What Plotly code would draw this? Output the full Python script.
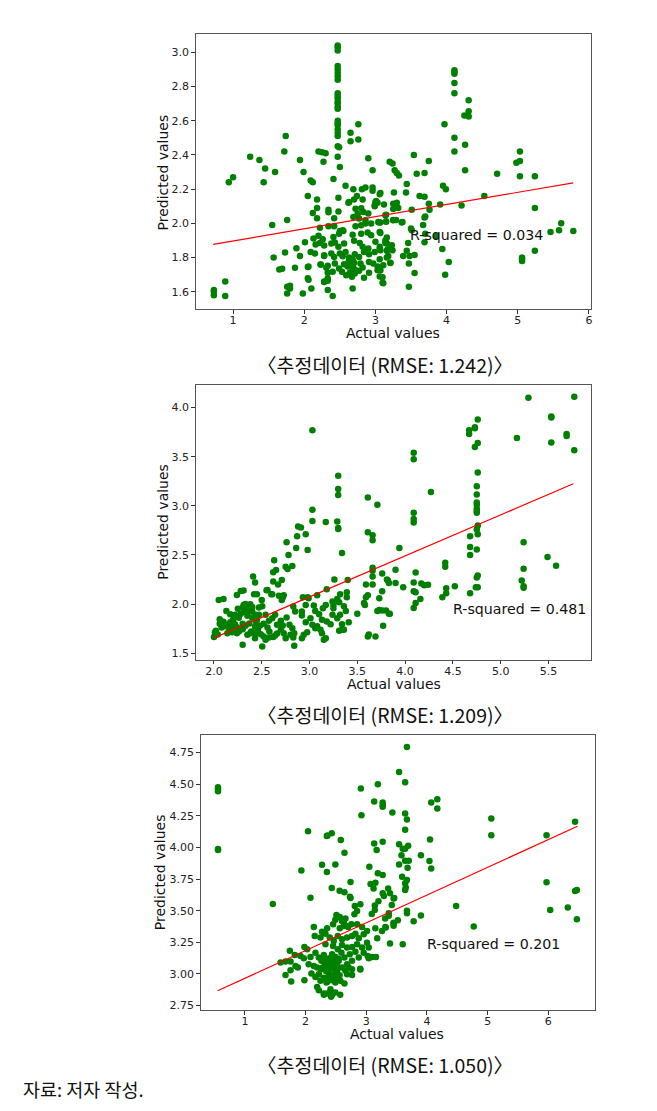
import plotly.graph_objects as go

# ---- data: (actual, predicted) ----
pts1 = [
    (0.73, 1.61), (0.73, 1.58), (0.73, 1.60), (0.89, 1.66), (0.89, 1.575), (0.94, 2.24), (1.0, 2.27),
    (1.24, 2.39), (1.37, 2.37), (1.45, 2.32), (1.43, 2.24), (1.59, 2.30), (1.55, 1.99), (1.57, 1.80),
    (1.65, 1.73), (1.69, 1.735), (1.73, 1.83), (1.74, 2.51), (1.72, 2.42), (1.76, 2.02), (1.76, 1.63),
    (1.80, 1.635), (1.80, 1.62), (1.76, 1.59), (1.87, 1.74), (1.89, 1.855), (1.94, 2.37), (1.94, 1.81),
    (1.99, 2.30), (1.98, 1.59), (2.01, 1.89), (2.05, 2.16), (2.05, 1.745), (2.05, 1.68), (2.06, 1.67),
    (2.10, 1.62), (2.09, 2.25), (2.12, 2.24), (2.12, 2.06), (2.18, 2.14), (2.18, 2.09), (2.18, 2.03),
    (2.20, 2.42), (2.25, 2.415), (2.30, 2.41), (2.27, 2.36), (2.23, 1.76), (2.28, 1.66), (2.28, 1.81),
    (2.31, 1.74), (2.33, 1.68), (2.33, 1.61), (2.40, 1.575), (2.34, 2.08), (2.34, 2.065), (2.41, 2.26),
    (2.42, 2.03),
    (2.47, 3.04), (2.47, 3.03), (2.47, 3.01), (2.47, 2.92), (2.47, 2.90), (2.47, 2.88), (2.47, 2.86),
    (2.47, 2.84), (2.47, 2.76), (2.47, 2.745), (2.47, 2.73), (2.47, 2.71), (2.47, 2.70), (2.47, 2.68),
    (2.47, 2.67), (2.47, 2.60), (2.47, 2.585), (2.47, 2.575), (2.47, 2.55), (2.47, 2.53), (2.47, 2.51),
    (2.47, 2.45), (2.47, 2.39),
    (2.49, 2.445), (2.50, 2.33), (2.48, 2.15), (2.48, 2.07), (2.65, 2.53), (2.65, 2.48), (2.76, 2.58),
    (2.76, 2.49), (2.58, 2.22), (2.62, 2.12), (2.69, 2.20), (2.81, 2.20), (2.86, 2.21), (2.90, 2.38),
    (2.96, 2.31), (2.96, 2.21), (2.96, 2.19), (3.06, 2.17), (3.00, 2.125), (3.03, 2.12), (2.99, 2.10),
    (3.20, 2.36), (3.24, 2.35), (3.27, 2.31), (3.30, 2.295), (3.33, 2.28), (3.54, 2.40), (3.58, 2.29),
    (3.69, 2.295), (3.75, 2.365), (3.44, 2.23), (3.43, 2.18), (3.26, 2.18), (3.30, 2.12), (3.25, 2.115),
    (3.32, 2.09), (3.29, 2.02), (3.25, 2.02), (3.37, 2.005), (3.15, 2.05), (3.15, 2.01), (3.05, 2.005),
    (3.62, 2.16), (3.69, 2.155), (3.75, 2.115), (3.76, 2.08), (3.51, 2.08), (3.70, 2.04), (3.69, 2.035),
    (3.91, 2.11), (3.95, 2.22), (3.99, 2.20), (4.21, 2.105), (4.53, 2.16), (3.97, 2.58), (4.11, 2.895),
    (4.11, 2.885), (4.11, 2.875), (4.11, 2.82), (4.11, 2.76), (4.11, 2.50), (4.11, 2.42), (4.31, 2.72),
    (4.31, 2.655), (4.25, 2.63), (4.31, 2.625), (4.26, 2.46), (4.26, 2.31), (4.71, 2.29), (4.98, 2.355),
    (5.03, 2.365), (5.03, 2.42), (5.03, 2.275), (5.24, 2.275), (5.24, 2.09), (5.46, 1.95), (5.58, 1.96),
    (5.61, 2.0), (5.78, 1.955), (5.24, 1.84), (5.06, 1.80), (5.06, 1.79), (5.06, 1.78), (3.67, 1.99),
    (3.70, 1.94), (3.69, 1.89), (3.85, 1.925), (3.94, 1.85), (4.03, 1.775), (3.98, 1.70), (3.44, 1.84),
    (3.47, 1.765), (3.48, 1.81), (3.55, 1.815), (3.55, 1.71), (3.47, 1.63), (3.39, 1.81), (3.51, 1.96),
    (3.46, 1.885), (3.16, 1.84), (3.16, 1.80), (3.21, 1.855), (3.18, 1.81), (3.21, 1.77), (3.14, 1.90),
    (3.14, 1.885), (3.10, 1.685), (3.11, 1.65), (3.06, 1.69), (3.06, 1.79), (3.05, 1.73), (3.06, 1.85),
    (3.06, 1.95), (3.07, 2.005), (3.50, 1.97), (3.38, 2.008),
    (2.22, 1.975), (2.34, 1.983), (2.50, 1.956), (2.55, 1.955), (2.72, 1.983), (2.80, 1.989), (2.86, 1.999),
    (3.04, 2.008), (3.15, 2.012), (3.25, 2.018), (2.42, 1.983), (2.54, 1.96),
    (2.13, 1.911), (2.20, 1.927), (2.26, 1.907), (2.41, 1.921), (2.49, 1.94), (2.68, 1.934), (2.80, 1.94),
    (2.89, 1.946), (2.94, 1.931), (3.07, 1.944), (3.16, 1.917),
    (2.16, 1.876), (2.22, 1.886), (2.28, 1.87), (2.38, 1.882), (2.43, 1.888), (2.48, 1.863), (2.56, 1.882),
    (2.70, 1.898), (2.78, 1.886), (2.82, 1.863), (2.90, 1.853), (3.00, 1.892), (3.06, 1.863), (3.16, 1.882),
    (3.23, 1.872),
    (2.15, 1.824), (2.28, 1.814), (2.38, 1.824), (2.42, 1.804), (2.50, 1.824), (2.54, 1.808), (2.58, 1.833),
    (2.63, 1.801), (2.68, 1.789), (2.71, 1.82), (2.77, 1.804), (2.84, 1.833), (2.88, 1.843), (2.91, 1.82),
    (2.99, 1.833), (3.07, 1.843), (3.17, 1.847), (3.24, 1.843), (2.09, 1.833),
    (2.23, 1.76), (2.33, 1.752), (2.43, 1.765), (2.49, 1.736), (2.56, 1.761), (2.61, 1.748), (2.64, 1.769),
    (2.68, 1.75), (2.72, 1.726), (2.79, 1.765), (2.82, 1.742), (2.91, 1.775), (2.97, 1.765), (3.03, 1.748),
    (3.11, 1.756), (3.21, 1.769), (2.06, 1.748),
    (2.33, 1.711), (2.40, 1.717), (2.53, 1.717), (2.59, 1.697), (2.64, 1.711), (2.67, 1.688), (2.71, 1.707),
    (2.77, 1.723), (2.84, 1.682), (2.91, 1.711), (3.03, 1.726), (3.07, 1.726), (2.28, 1.658), (2.33, 1.664),
    (3.10, 1.653), (2.68, 1.62),
    (2.62, 1.77), (2.64, 1.76), (2.66, 1.78), (2.68, 1.76), (2.65, 1.75), (2.70, 1.77), (2.63, 1.79),
    (2.67, 1.745), (2.60, 1.76), (2.69, 1.74),
    (2.63, 2.125), (2.70, 2.139), (2.74, 2.16), (2.82, 2.14), (2.72, 2.086), (2.80, 2.088), (2.83, 2.067),
    (2.75, 2.055), (2.90, 2.057), (2.99, 2.106), (3.01, 2.131), (3.07, 2.178), (3.12, 2.111), (3.14, 2.047),
    (3.25, 2.084), (2.69, 2.037), (2.77, 2.028), (2.86, 2.018), (2.94, 1.999),
]

pts2 = [
    (3.03, 3.77), (3.30, 3.305), (3.30, 3.17), (3.30, 3.11), (3.03, 2.96), (3.03, 2.845), (3.17, 2.835),
    (3.29, 2.84), (3.30, 2.775), (3.30, 2.765), (3.34, 2.52), (3.61, 3.085), (3.71, 3.01), (3.61, 2.73),
    (3.66, 2.70), (3.66, 2.65), (3.94, 2.57), (4.09, 3.54), (4.09, 3.475), (4.09, 2.93), (4.09, 2.865),
    (4.09, 2.83), (4.27, 3.14), (4.67, 3.77), (4.67, 3.73), (4.73, 3.80), (4.73, 3.79), (4.76, 3.88),
    (4.73, 3.60), (4.76, 3.64), (4.76, 3.34), (4.75, 3.20), (4.75, 3.115), (4.75, 3.035), (4.75, 3.01),
    (4.75, 2.97), (4.75, 2.95), (4.75, 2.93), (4.76, 2.80), (4.75, 2.76), (4.76, 2.71), (4.68, 2.69),
    (4.68, 2.58), (4.68, 2.50), (4.75, 2.555), (4.76, 2.29), (4.75, 2.27), (4.74, 2.17), (4.76, 2.17),
    (4.68, 2.11), (4.39, 2.07), (4.42, 2.42), (4.42, 2.38), (4.43, 2.16), (4.43, 2.11), (4.52, 2.18),
    (5.17, 3.69), (5.29, 4.10), (5.53, 3.91), (5.53, 3.90), (5.53, 3.645), (5.69, 3.73), (5.69, 3.71),
    (5.77, 4.11), (5.77, 3.565), (5.24, 2.63), (5.24, 2.36), (5.22, 2.24), (5.24, 2.18), (5.24, 2.165),
    (5.49, 2.48), (5.58, 2.39), (4.09, 2.22), (4.09, 2.13), (4.11, 2.12), (4.11, 2.32), (4.17, 2.21),
    (4.20, 2.19), (4.24, 2.195), (4.11, 2.01), (4.09, 1.96), (4.16, 2.05), (3.98, 2.17), (3.90, 2.215),
    (3.90, 2.35), (3.81, 2.25), (3.82, 2.24), (3.83, 2.215), (3.76, 2.31), (3.76, 2.13), (3.73, 2.06),
    (3.66, 2.37), (3.66, 2.34), (3.66, 2.28), (3.66, 2.20), (3.59, 2.20), (3.61, 2.09), (3.59, 2.07),
    (3.57, 2.01), (3.58, 1.99), (3.71, 1.93), (3.73, 1.94), (3.76, 1.935), (3.80, 1.935), (3.83, 1.90),
    (3.77, 1.78), (3.69, 1.67), (3.62, 1.69), (3.61, 1.67), (3.50, 1.90),
    (2.76, 2.63), (2.87, 2.69), (2.96, 2.71), (2.88, 2.79), (2.91, 2.78), (2.86, 2.57), (2.98, 2.55),
    (2.78, 2.50), (2.63, 2.445), (2.65, 2.346), (2.62, 2.323), (2.75, 2.38), (2.77, 2.357), (2.82, 2.387),
    (2.67, 2.20), (2.62, 2.23), (2.71, 2.245), (2.41, 2.28), (2.43, 2.22), (2.55, 2.14), (2.60, 2.10),
    (2.73, 2.09), (2.71, 2.04), (2.93, 2.07), (2.98, 2.07), (3.08, 2.09), (3.18, 2.15), (3.26, 2.25),
    (3.40, 2.245), (3.39, 2.12), (3.39, 2.07), (3.32, 2.10), (3.29, 2.05),
    (2.05, 2.04), (2.10, 2.05), (2.01, 1.713), (2.02, 1.727), (2.00, 1.663), (2.06, 1.846), (2.09, 1.795),
    (2.115, 1.774), (2.14, 1.788), (2.17, 1.815), (2.185, 1.761), (2.22, 1.795), (2.24, 1.764), (2.26, 1.72),
    (2.30, 1.744), (2.33, 1.778), (2.37, 1.801), (2.39, 1.72), (2.43, 1.771), (2.45, 1.839), (2.47, 1.89),
    (2.13, 1.93), (2.17, 1.896), (2.22, 1.89), (2.25, 1.951), (2.30, 1.964), (2.31, 1.991), (2.33, 2.0),
    (2.355, 1.974), (2.38, 1.998), (2.40, 1.923), (2.435, 1.89), (2.47, 1.964), (2.505, 1.978), (2.54, 1.89),
    (2.575, 1.829), (2.61, 1.856), (2.64, 1.89), (2.66, 1.788), (2.70, 1.829), (2.72, 1.781), (2.76, 1.862),
    (2.79, 1.788), (2.82, 1.754), (2.84, 1.703), (2.92, 1.883), (2.96, 1.815), (3.01, 1.856), (3.03, 1.788),
    (3.08, 1.774), (3.115, 1.737), (3.13, 1.839), (3.18, 1.822), (3.22, 1.795), (3.24, 1.89), (3.25, 1.957),
    (3.29, 1.856), (3.32, 1.89), (3.34, 1.795), (3.36, 1.737), (3.41, 1.815),
    (2.24, 2.093), (2.28, 2.133), (2.31, 2.137), (2.42, 2.10), (2.45, 2.10), (2.50, 2.042), (2.56, 2.143),
    (2.61, 2.10), (2.68, 2.083), (2.72, 2.066), (2.83, 1.974), (2.85, 1.923), (2.92, 1.923), (2.96, 1.991),
    (2.99, 2.059), (3.045, 1.984), (3.06, 1.93), (3.10, 1.896), (3.14, 1.957), (3.17, 1.991), (3.24, 2.025),
    (3.25, 1.991), (3.31, 2.018), (3.36, 1.978), (3.38, 1.93),
    (2.30, 1.585), (2.505, 1.568), (2.54, 1.636), (2.575, 1.659), (2.62, 1.663), (2.64, 1.68), (2.73, 1.703),
    (2.75, 1.652), (2.80, 1.686), (2.83, 1.659), (2.84, 1.575), (2.92, 1.652), (2.94, 1.686), (2.975, 1.713),
    (3.06, 1.754), (3.13, 1.703), (3.15, 1.636), (3.17, 1.652), (3.31, 1.727), (3.34, 1.737),
    (2.19, 1.713), (2.21, 1.727), (2.14, 1.703), (2.24, 1.703), (2.35, 1.686), (2.38, 1.703), (2.43, 1.652),
    (2.435, 1.703), (2.49, 1.693), (2.52, 1.669),
    (2.34, 1.95), (2.36, 1.93), (2.32, 1.92), (2.38, 1.96), (2.35, 1.88), (2.40, 1.97), (2.28, 1.90),
    (2.26, 1.86), (2.20, 1.84), (2.18, 1.79), (2.12, 1.78), (2.08, 1.76), (2.44, 1.82), (2.48, 1.78),
    (2.52, 1.80), (2.56, 1.76), (2.58, 1.72), (2.66, 1.70), (2.70, 1.74), (2.46, 1.74), (2.30, 1.80),
    (2.40, 1.86), (2.10, 1.82), (2.06, 1.80), (2.04, 1.69), (2.16, 1.73), (3.84, 1.90),
]

pts3 = [
    (0.556, 4.476), (0.556, 4.46), (0.556, 4.445), (0.556, 3.987), (0.556, 3.98), (1.46, 3.553),
    (1.93, 3.818), (2.04, 4.129), (2.08, 3.603), (2.27, 3.863), (2.35, 4.09), (2.36, 4.095), (2.43, 4.113),
    (2.35, 3.805), (2.49, 3.866), (2.58, 4.058), (2.64, 3.958), (2.43, 3.679), (2.56, 3.658), (2.64, 3.645),
    (2.74, 3.726), (2.73, 3.61), (2.74, 3.60), (2.91, 4.466), (2.92, 4.255), (3.13, 4.363), (3.19, 4.50),
    (3.27, 4.355), (3.27, 4.334), (3.27, 4.321), (3.43, 4.276), (3.54, 4.597), (3.64, 4.516), (3.67, 4.795),
    (3.64, 4.268), (3.67, 4.221), (3.64, 4.139), (3.13, 4.032), (3.17, 3.979), (3.27, 4.045), (3.54, 4.026),
    (3.60, 3.99), (3.64, 3.99), (3.69, 4.013), (3.58, 3.939), (3.64, 3.895), (3.70, 3.895), (3.68, 3.84),
    (3.54, 3.866), (3.59, 3.768), (3.64, 3.716), (3.65, 3.684), (3.64, 3.663), (3.67, 3.742), (3.19, 3.795),
    (3.27, 3.782), (3.05, 3.847), (3.07, 3.71), (3.15, 3.721), (3.12, 3.676), (3.20, 3.574), (3.27, 3.637),
    (3.29, 3.616), (3.36, 3.676), (3.39, 3.637), (3.45, 3.597), (3.42, 3.545), (3.37, 3.48), (3.37, 3.46),
    (3.14, 3.54), (3.14, 3.505), (3.09, 3.474), (3.31, 3.439), (3.32, 3.366), (3.45, 3.405), (3.45, 3.381),
    (3.52, 3.424), (3.39, 3.24), (3.60, 3.234), (3.67, 3.50), (3.67, 3.479), (3.78, 3.416), (3.90, 3.461),
    (3.90, 3.939), (4.05, 4.063), (4.07, 4.355), (4.17, 4.382), (4.17, 4.308), (4.04, 3.892), (4.07, 3.834),
    (4.48, 3.537), (4.77, 3.374), (5.06, 4.229), (5.06, 4.097), (5.97, 4.097), (5.97, 3.724), (6.03, 3.505),
    (6.32, 3.526), (6.44, 4.203), (6.44, 3.655), (6.47, 3.663), (6.47, 3.432), (3.18, 3.282), (3.04, 3.124),
    (3.16, 3.134), (2.90, 3.04), (3.46, 3.60),
    (2.135, 3.371), (2.27, 3.334), (2.354, 3.361), (2.453, 3.392), (2.563, 3.361), (2.628, 3.379),
    (2.754, 3.392), (2.848, 3.392), (2.93, 3.371), (3.012, 3.339), (3.149, 3.361), (3.259, 3.339),
    (3.314, 3.371), (3.45, 3.397),
    (2.508, 3.466), (2.563, 3.45), (2.60, 3.418), (2.656, 3.439), (2.70, 3.371), (2.804, 3.471),
    (2.848, 3.497), (2.902, 3.55), (2.81, 3.537), (2.49, 3.429), (2.628, 3.413), (2.683, 3.379),
    (2.15, 3.30), (2.245, 3.287), (2.327, 3.318), (2.398, 3.287), (2.464, 3.261), (2.53, 3.30), (2.60, 3.274),
    (2.683, 3.287), (2.765, 3.30), (2.82, 3.318), (2.875, 3.282), (2.957, 3.313), (3.012, 3.247), (3.04, 3.208),
    (2.327, 3.234), (2.453, 3.221), (2.53, 3.195), (2.60, 3.229), (2.683, 3.208), (2.765, 3.213),
    (2.848, 3.234), (2.93, 3.208),
    (1.98, 3.213), (2.025, 3.195), (1.74, 3.182), (1.822, 3.15), (1.916, 3.142), (1.97, 3.124), (2.08, 3.134),
    (2.162, 3.168), (2.217, 3.129), (2.26, 3.103), (2.30, 3.15), (2.354, 3.09), (2.398, 3.124), (2.436, 3.155),
    (2.49, 3.134), (2.546, 3.103), (2.59, 3.168), (2.64, 3.129), (2.683, 3.076), (2.727, 3.155), (2.765, 3.103),
    (2.82, 3.176), (2.875, 3.129), (2.957, 3.168), (3.023, 3.142), (3.094, 3.134), (1.669, 3.097),
    (1.751, 3.097), (1.587, 3.09), (1.833, 3.063), (1.872, 3.05), (2.05, 3.076), (2.135, 3.063), (2.19, 3.05),
    (2.255, 3.037), (2.327, 3.055), (2.409, 3.076), (2.464, 3.045), (2.519, 3.063), (2.60, 3.05), (2.656, 3.024),
    (2.71, 3.05), (2.765, 3.037),
    (1.669, 2.992), (1.751, 3.029), (1.98, 2.95), (2.096, 3.003), (2.162, 2.976), (2.217, 2.997), (2.245, 2.945),
    (2.30, 2.97), (2.343, 2.932), (2.382, 2.984), (2.436, 2.95), (2.475, 2.997), (2.53, 2.976), (2.573, 2.945),
    (2.64, 2.924), (2.683, 2.997), (2.765, 2.992), (2.902, 3.034), (1.762, 2.939), (2.19, 2.897), (2.217, 2.871),
    (2.30, 2.845), (2.354, 2.845), (2.409, 2.879), (2.436, 2.834), (2.49, 2.853), (2.49, 2.932), (2.30, 2.834),
    (2.42, 2.82), (2.57, 2.834),
    (2.38, 3.08), (2.42, 3.10), (2.44, 3.06), (2.36, 3.12), (2.40, 3.04), (2.46, 3.11), (2.34, 3.02),
    (2.48, 3.00), (2.32, 3.08), (2.44, 3.14), (2.38, 3.02), (2.50, 3.08), (2.28, 3.05), (2.52, 3.03),
    (2.40, 2.98), (2.46, 2.96), (2.36, 2.94), (2.56, 2.99), (2.30, 3.11), (2.54, 3.12),
]

actual1 = [p[0] for p in pts1]
pred1 = [p[1] for p in pts1]
actual2 = [p[0] for p in pts2]
pred2 = [p[1] for p in pts2]
actual3 = [p[0] for p in pts3]
pred3 = [p[1] for p in pts3]

# regression line end points
fit1_x = [0.72, 5.78]
fit1_y = [1.877, 2.237]
fit2_x = [2.0, 5.76]
fit2_y = [1.655, 3.225]
fit3_x = [0.55, 6.48]
fit3_y = [2.866, 4.168]

r2_labels = ['R-squared = 0.034', 'R-squared = 0.481', 'R-squared = 0.201']
r2_pos = [(3.46, 1.93), (4.475, 1.95), (3.96, 3.237)]
captions = ['〈추정데이터 (RMSE: 1.242)〉', '〈추정데이터 (RMSE: 1.209)〉', '〈추정데이터 (RMSE: 1.050)〉']
source_note = '자료: 저자 작성.'

# the page body keeps an 8px margin, so the figure is drawn inside it
PAGE_W, PAGE_H, OFF = 657, 1111, 8
W, H = PAGE_W - 2 * OFF, PAGE_H - 2 * OFF
TXT = 'DejaVu Sans'
CJK = 'Noto Sans CJK KR'


def px(x):
    return (x - OFF) / W


def py(y):
    return 1 - (y - OFF) / H


# page-pixel boxes of the three axes (left, right, top, bottom)
boxes = [(196, 592, 34, 310), (196, 592, 386, 661), (201, 596, 736, 1012)]
xranges = [[0.475, 6.03], [1.809, 5.946], [0.271, 6.77]]
yranges = [[1.497, 3.107], [1.432, 4.227], [2.713, 4.892]]
xticks = [dict(tick0=1, dtick=1, tickformat='d'),
          dict(tick0=2.0, dtick=0.5, tickformat='.1f'),
          dict(tick0=1, dtick=1, tickformat='d')]
yticks = [dict(tick0=1.6, dtick=0.2, tickformat='.1f'),
          dict(tick0=1.5, dtick=0.5, tickformat='.1f'),
          dict(tick0=2.75, dtick=0.25, tickformat='.2f')]
caption_y = [365, 716, 1066]
xtitle_y = [334, 685, 1036]
xtitle_x = [394, 395, 398]
ytitle_pos = [(163, 173), (163, 523), (161, 874)]

series = [(actual1, pred1, fit1_x, fit1_y), (actual2, pred2, fit2_x, fit2_y),
          (actual3, pred3, fit3_x, fit3_y)]

fig = go.Figure()
layout = {}
annotations = []

for i, (ax_vals, pr_vals, fx, fy) in enumerate(series):
    n = '' if i == 0 else str(i + 1)
    xa, ya = 'x' + n, 'y' + n
    l, r, t, b = boxes[i]

    fig.add_trace(go.Scatter(
        x=ax_vals, y=pr_vals, mode='markers', xaxis=xa, yaxis=ya,
        marker=dict(color='#008000', size=6.5, line=dict(width=0)),
        showlegend=False, hoverinfo='skip'
    ))
    fig.add_trace(go.Scatter(
        x=fx, y=fy, mode='lines', xaxis=xa, yaxis=ya,
        line=dict(color='#ff0000', width=1.2),
        showlegend=False, hoverinfo='skip'
    ))

    axis_common = dict(
        showgrid=False, zeroline=False, showline=True, mirror=True,
        linecolor='#555555', linewidth=1, ticks='outside', ticklen=3.5,
        tickcolor='#333333', tickwidth=1,
        tickfont=dict(family=TXT, size=11, color='#222222'),
    )
    layout['xaxis' + n] = dict(
        domain=[px(l), px(r)], anchor=ya, range=xranges[i],
        tickmode='linear', ticklabelstandoff=-3, **xticks[i], **axis_common
    )
    layout['yaxis' + n] = dict(
        domain=[py(b), py(t)], anchor=xa, range=yranges[i],
        tickmode='linear', **yticks[i], **axis_common
    )

    # R-squared note inside the axes
    annotations.append(dict(
        x=r2_pos[i][0], y=r2_pos[i][1], xref=xa, yref=ya, text=r2_labels[i],
        showarrow=False, xanchor='left', yanchor='middle',
        font=dict(family=TXT, size=14.2, color='#111111')
    ))
    # axis titles
    annotations.append(dict(
        x=px(xtitle_x[i]), y=py(xtitle_y[i]), xref='paper', yref='paper',
        text='Actual values', showarrow=False, xanchor='center', yanchor='middle',
        borderpad=0, font=dict(family=TXT, size=14, color='#111111')
    ))
    annotations.append(dict(
        x=px(ytitle_pos[i][0]), y=py(ytitle_pos[i][1]), xref='paper', yref='paper',
        text='Predicted values', showarrow=False, textangle=-90,
        xanchor='center', yanchor='middle',
        font=dict(family=TXT, size=14, color='#111111')
    ))
    # caption below each panel
    annotations.append(dict(
        x=px(386), y=py(caption_y[i]), xref='paper', yref='paper',
        text=captions[i], showarrow=False, xanchor='center', yanchor='middle',
        font=dict(family=CJK, size=19.5, color='#111111')
    ))

annotations.append(dict(
    x=px(22), y=py(1091), xref='paper', yref='paper', text=source_note,
    showarrow=False, xanchor='left', yanchor='middle', borderpad=0,
    font=dict(family=CJK, size=18.5, color='#111111')
))

fig.update_layout(
    width=W, height=H,
    margin=dict(l=0, r=0, t=0, b=0),
    paper_bgcolor='white', plot_bgcolor='white',
    annotations=annotations,
    **layout
)

fig.write_html('out.html')
